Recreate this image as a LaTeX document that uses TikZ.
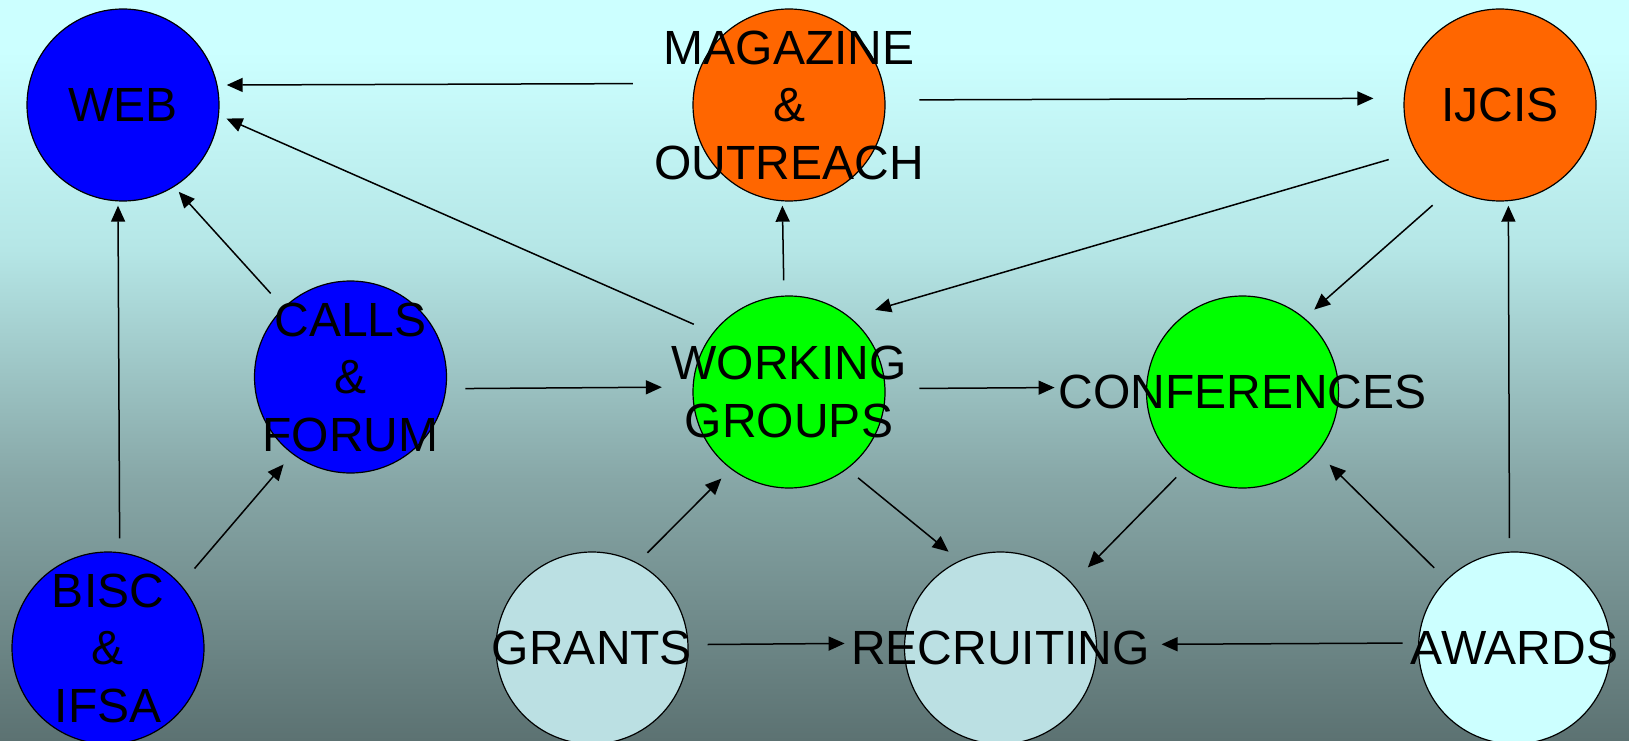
\documentclass[tikz,border=0pt]{standalone}
\usepackage{fontspec}
\setmainfont{Liberation Sans}
\usepackage{pgf}
\usepackage{tikz}
\usetikzlibrary{shapes,arrows,arrows.meta,positioning}

\definecolor{bgtop}{HTML}{CCFFFF}
\definecolor{bghigh}{HTML}{B5E6E6}
\definecolor{bglow}{HTML}{87A7A7}
\definecolor{bgbot}{HTML}{5C7272}
\definecolor{webblue}{HTML}{0000FF}
\definecolor{pressorange}{HTML}{FF6600}
\definecolor{groupgreen}{HTML}{00FF00}
\definecolor{fundcyan}{HTML}{BBE0E3}
\definecolor{prizecyan}{HTML}{CCFFFF}

\pgfdeclareverticalshading{bgfade}{100bp}{color(0bp)=(bgbot); color(25bp)=(bgbot); color(42.6bp)=(bglow); color(58.1bp)=(bghigh); color(71.6bp)=(bgtop); color(100bp)=(bgtop)}

\begin{document}
\begin{tikzpicture}[x=1pt,y=1pt]
			\tikzstyle{Blob}	= [circle, draw, line width=1.2pt, minimum size=192pt, inner sep=0pt, outer sep=0pt]
			\tikzstyle{Caption}	= [align=center, inner sep=0pt, font=\fontsize{48}{57.5}\selectfont]
			\tikzstyle{WEB}		= [fill = webblue]
			\tikzstyle{PRESS}	= [fill = pressorange]
			\tikzstyle{GROUP}	= [fill = groupgreen]
			\tikzstyle{FUND}	= [fill = fundcyan]
			\tikzstyle{PRIZE}	= [fill = prizecyan]
			\tikzstyle{Link}	= [line width=1.5pt, -{Triangle[length=16pt,width=14pt]}]
			
			\useasboundingbox (0,0) rectangle (1629,740);
			\shade [shading=bgfade] (0,0) rectangle (1629,740);
			
			\node (web) at (123,635) [Blob][WEB][label={[Caption]center:WEB}] {};
			\node (mag) at (789,635) [Blob][PRESS][label={[Caption]center:MAGAZINE\\\&\\OUTREACH}] {};
			\node (ijcis) at (1500,635) [Blob][PRESS][label={[Caption]center:IJCIS}] {};
			\node (calls) at (350.5,363) [Blob][WEB][label={[Caption]center:CALLS\\\&\\FORUM}] {};
			\node (wg) at (789,348) [Blob][GROUP][label={[Caption]center:WORKING\\GROUPS}] {};
			\node (conf) at (1242.5,348) [Blob][GROUP][label={[Caption]center:CONFERENCES}] {};
			\node (bisc) at (108,92) [Blob][WEB][label={[Caption]center:BISC\\\&\\IFSA}] {};
			\node (grants) at (592,92) [Blob][FUND][label={[Caption]center:GRANTS}] {};
			\node (rec) at (1000.5,92) [Blob][FUND][label={[Caption]center:RECRUITING}] {};
			\node (awards) at (1514.5,92) [Blob][PRIZE][label={[Caption]center:AWARDS}] {};
			
			\draw [Link, shorten <=62.6pt, shorten >=9.8pt] (mag.167.5) to (web.12.5);
			\draw [Link, shorten <=34.6pt, shorten >=30.8pt] (mag.3.2) to (ijcis.176.8);
			\draw [Link, shorten <=21.4pt, shorten >=8.7pt] (wg.142.8) to (web.354.7);
			\draw [Link, shorten <=19.6pt, shorten >=7.3pt] (calls.134.6) to (web.302.7);
			\draw [Link, shorten <=14.4pt, shorten >=4.8pt] (bisc.83.8) to (web.267.3);
			\draw [Link, shorten <=15.7pt, shorten >=4.9pt] (wg.93.4) to (mag.266.6);
			\draw [Link, shorten <=28.5pt, shorten >=26.8pt] (ijcis.209.4) to (wg.51.3);
			\draw [Link, shorten <=25.8pt, shorten >=13.4pt] (ijcis.240.8) to (conf.50.1);
			\draw [Link, shorten <=14pt, shorten >=5.1pt] (awards.93.6) to (ijcis.275.1);
			\draw [Link, shorten <=19.5pt, shorten >=31.3pt] (calls.353.7) to (wg.177.3);
			\draw [Link, shorten <=34.5pt, shorten >=92.1pt] (wg.2.7) to (conf.177.3);
			\draw [Link, shorten <=21.7pt, shorten >=14.1pt] (bisc.41.2) to (calls.233.1);
			\draw [Link, shorten <=14.7pt, shorten >=14pt] (grants.62.2) to (wg.233.5);
			\draw [Link, shorten <=14.6pt, shorten >=14.7pt] (wg.307) to (rec.115);
			\draw [Link, shorten <=12.2pt, shorten >=22.9pt] (conf.233.6) to (rec.42.3);
			\draw [Link, shorten <=17.5pt, shorten >=17.5pt] (awards.135.5) to (conf.321.3);
			\draw [Link, shorten <=19.6pt, shorten >=60pt] (grants.2.3) to (rec.177.7);
			\draw [Link, shorten <=16.1pt, shorten >=65.1pt] (awards.177.7) to (rec.2.3);
		\end{tikzpicture}
\end{document}
